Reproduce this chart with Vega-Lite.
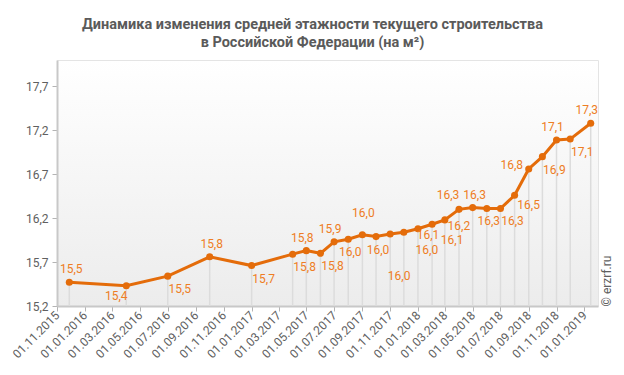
{
  "$schema": "https://vega.github.io/schema/vega-lite/v6.json",
  "width": 541,
  "height": 246,
  "autosize": {"type": "none"},
  "padding": {"left": 57, "top": 60, "right": 26, "bottom": 69},
  "background": "#ffffff",
  "config": {
    "locale": {"number": {"decimal": ",", "thousands": " ", "grouping": [3], "currency": ["", ""]}},
    "font": "Roboto",
    "view": {"stroke": "#e4e4e4", "strokeWidth": 1, "fill": {"gradient": "linear", "x1": 0, "y1": 0, "x2": 0, "y2": 1, "stops": [{"offset": 0, "color": "#ffffff"}, {"offset": 1, "color": "#ececec"}]}},
    "axis": {"grid": false, "domainColor": "#c8c8c8", "domainWidth": 2, "tickColor": "#b4b4b4", "tickSize": 5, "labelFont": "Roboto", "labelFontSize": 12, "labelColor": "#606060", "title": null}
  },
  "title": {
    "text": ["Динамика изменения средней этажности текущего строительства", "в Российской Федерации (на м²)"],
    "anchor": "middle",
    "dx": -15,
    "font": "Roboto",
    "fontSize": 14.5,
    "fontWeight": "bold",
    "color": "#5a5a5a",
    "lineHeight": 18,
    "offset": 10
  },
  "datasets": {
    "d": [
      {"date": "2015-11-28", "value": 15.47},
      {"date": "2016-04-01", "value": 15.43},
      {"date": "2016-07-01", "value": 15.54},
      {"date": "2016-10-01", "value": 15.76},
      {"date": "2017-01-01", "value": 15.66},
      {"date": "2017-04-01", "value": 15.79},
      {"date": "2017-05-01", "value": 15.83},
      {"date": "2017-06-01", "value": 15.80},
      {"date": "2017-07-01", "value": 15.93},
      {"date": "2017-08-01", "value": 15.96},
      {"date": "2017-09-01", "value": 16.01},
      {"date": "2017-10-01", "value": 15.99},
      {"date": "2017-11-01", "value": 16.02},
      {"date": "2017-12-01", "value": 16.04},
      {"date": "2018-01-01", "value": 16.08},
      {"date": "2018-02-01", "value": 16.13},
      {"date": "2018-03-01", "value": 16.18},
      {"date": "2018-04-01", "value": 16.30},
      {"date": "2018-05-01", "value": 16.32},
      {"date": "2018-06-01", "value": 16.31},
      {"date": "2018-07-01", "value": 16.31},
      {"date": "2018-08-01", "value": 16.46},
      {"date": "2018-09-01", "value": 16.76},
      {"date": "2018-10-01", "value": 16.90},
      {"date": "2018-11-01", "value": 17.09},
      {"date": "2018-12-01", "value": 17.10},
      {"date": "2019-01-15", "value": 17.28}
    ]
  },
  "data": {"name": "d"},
  "encoding": {
    "x": {"field": "date", "type": "temporal",
      "scale": {"type": "utc", "domain": [{"year": 2015, "month": 11, "date": 1, "utc": true}, {"year": 2019, "month": 1, "date": 31, "utc": true}]},
      "axis": {"labelExpr": "utcFormat(datum.value, '%d.%m.%Y')", "labelAngle": -45, "labelAlign": "right", "labelBaseline": "middle", "labelPadding": 2, "labelOverlap": false, "labelFlush": false,
        "values": [1446336000000, 1451606400000, 1456790400000, 1462060800000, 1467331200000, 1472688000000, 1477958400000, 1483228800000, 1488326400000, 1493596800000, 1498867200000, 1504224000000, 1509494400000, 1514764800000, 1519862400000, 1525132800000, 1530403200000, 1535760000000, 1541030400000, 1546300800000]}}
  },
  "layer": [
    {
      "mark": {"type": "rule", "color": "#dcdcdc", "strokeWidth": 1.5},
      "encoding": {
        "y": {"field": "value", "type": "quantitative",
          "scale": {"domain": [15.2, 18.0], "nice": false, "zero": false},
          "axis": {"format": ".1f", "values": [15.2, 15.7, 16.2, 16.7, 17.2, 17.7], "labelPadding": 4}},
        "y2": {"datum": 15.2}
      }
    },
    {
      "mark": {"type": "line", "color": "#e46c0a", "strokeWidth": 3},
      "encoding": {
        "y": {"field": "value", "type": "quantitative", "axis": null}
      }
    },
    {
      "mark": {"type": "circle", "color": "#e46c0a", "size": 50, "opacity": 1},
      "encoding": {
        "y": {"field": "value", "type": "quantitative", "axis": null}
      }
    },
    {
      "transform": [{"filter": "indexof(['2015-11-28','2016-10-01','2018-05-01'], utcFormat(datum.date, '%Y-%m-%d')) >= 0"}],
      "mark": {"type": "text", "color": "#ee7d24", "fontSize": 12, "dx": 2, "dy": -13},
      "encoding": {"y": {"field": "value", "type": "quantitative", "axis": null}, "text": {"field": "value", "type": "quantitative", "format": ".1f"}}
    },
    {
      "transform": [{"filter": "indexof(['2017-05-01','2017-07-01','2018-11-01','2019-01-15'], utcFormat(datum.date, '%Y-%m-%d')) >= 0"}],
      "mark": {"type": "text", "color": "#ee7d24", "fontSize": 12, "dx": -4, "dy": -13},
      "encoding": {"y": {"field": "value", "type": "quantitative", "axis": null}, "text": {"field": "value", "type": "quantitative", "format": ".1f"}}
    },
    {
      "transform": [{"filter": "indexof(['2017-09-01'], utcFormat(datum.date, '%Y-%m-%d')) >= 0"}],
      "mark": {"type": "text", "color": "#ee7d24", "fontSize": 12, "dx": 1, "dy": -22},
      "encoding": {"y": {"field": "value", "type": "quantitative", "axis": null}, "text": {"field": "value", "type": "quantitative", "format": ".1f"}}
    },
    {
      "transform": [{"filter": "indexof(['2018-04-01'], utcFormat(datum.date, '%Y-%m-%d')) >= 0"}],
      "mark": {"type": "text", "color": "#ee7d24", "fontSize": 12, "dx": -11, "dy": -14},
      "encoding": {"y": {"field": "value", "type": "quantitative", "axis": null}, "text": {"field": "value", "type": "quantitative", "format": ".1f"}}
    },
    {
      "transform": [{"filter": "indexof(['2018-09-01'], utcFormat(datum.date, '%Y-%m-%d')) >= 0"}],
      "mark": {"type": "text", "color": "#ee7d24", "fontSize": 12, "dx": -17, "dy": -4},
      "encoding": {"y": {"field": "value", "type": "quantitative", "axis": null}, "text": {"field": "value", "type": "quantitative", "format": ".1f"}}
    },
    {
      "transform": [{"filter": "indexof(['2016-07-01','2017-01-01','2017-04-01','2017-06-01','2018-07-01','2018-10-01','2018-12-01'], utcFormat(datum.date, '%Y-%m-%d')) >= 0"}],
      "mark": {"type": "text", "color": "#ee7d24", "fontSize": 12, "dx": 12, "dy": 13},
      "encoding": {"y": {"field": "value", "type": "quantitative", "axis": null}, "text": {"field": "value", "type": "quantitative", "format": ".1f"}}
    },
    {
      "transform": [{"filter": "indexof(['2018-08-01'], utcFormat(datum.date, '%Y-%m-%d')) >= 0"}],
      "mark": {"type": "text", "color": "#ee7d24", "fontSize": 12, "dx": 14, "dy": 10},
      "encoding": {"y": {"field": "value", "type": "quantitative", "axis": null}, "text": {"field": "value", "type": "quantitative", "format": ".1f"}}
    },
    {
      "transform": [{"filter": "indexof(['2017-08-01','2017-10-01','2018-06-01'], utcFormat(datum.date, '%Y-%m-%d')) >= 0"}],
      "mark": {"type": "text", "color": "#ee7d24", "fontSize": 12, "dx": 2, "dy": 13},
      "encoding": {"y": {"field": "value", "type": "quantitative", "axis": null}, "text": {"field": "value", "type": "quantitative", "format": ".1f"}}
    },
    {
      "transform": [{"filter": "indexof(['2016-04-01'], utcFormat(datum.date, '%Y-%m-%d')) >= 0"}],
      "mark": {"type": "text", "color": "#ee7d24", "fontSize": 12, "dx": -10, "dy": 10},
      "encoding": {"y": {"field": "value", "type": "quantitative", "axis": null}, "text": {"field": "value", "type": "quantitative", "format": ".1f"}}
    },
    {
      "transform": [{"filter": "indexof(['2017-11-01'], utcFormat(datum.date, '%Y-%m-%d')) >= 0"}],
      "mark": {"type": "text", "color": "#ee7d24", "fontSize": 12, "dx": 9, "dy": 42},
      "encoding": {"y": {"field": "value", "type": "quantitative", "axis": null}, "text": {"field": "value", "type": "quantitative", "format": ".1f"}}
    },
    {
      "transform": [{"filter": "indexof(['2017-12-01'], utcFormat(datum.date, '%Y-%m-%d')) >= 0"}],
      "mark": {"type": "text", "color": "#ee7d24", "fontSize": 12, "dx": 23, "dy": 18},
      "encoding": {"y": {"field": "value", "type": "quantitative", "axis": null}, "text": {"field": "value", "type": "quantitative", "format": ".1f"}}
    },
    {
      "transform": [{"filter": "indexof(['2018-01-01'], utcFormat(datum.date, '%Y-%m-%d')) >= 0"}],
      "mark": {"type": "text", "color": "#ee7d24", "fontSize": 12, "dx": 10, "dy": 6},
      "encoding": {"y": {"field": "value", "type": "quantitative", "axis": null}, "text": {"field": "value", "type": "quantitative", "format": ".1f"}}
    },
    {
      "transform": [{"filter": "indexof(['2018-02-01'], utcFormat(datum.date, '%Y-%m-%d')) >= 0"}],
      "mark": {"type": "text", "color": "#ee7d24", "fontSize": 12, "dx": 20, "dy": 16},
      "encoding": {"y": {"field": "value", "type": "quantitative", "axis": null}, "text": {"field": "value", "type": "quantitative", "format": ".1f"}}
    },
    {
      "transform": [{"filter": "indexof(['2018-03-01'], utcFormat(datum.date, '%Y-%m-%d')) >= 0"}],
      "mark": {"type": "text", "color": "#ee7d24", "fontSize": 12, "dx": 14, "dy": 6},
      "encoding": {"y": {"field": "value", "type": "quantitative", "axis": null}, "text": {"field": "value", "type": "quantitative", "format": ".1f"}}
    },
    {
      "mark": {"type": "point", "opacity": 0},
      "encoding": {
        "y": {"field": "value", "type": "quantitative", "axis": {"orient": "right", "labels": false, "ticks": false, "domain": false, "title": "© erzrf.ru", "titleAnchor": "start", "titleAngle": 270, "titleFont": "Roboto", "titleFontSize": 12, "titleFontWeight": "normal", "titleColor": "#606060", "titlePadding": 8, "titleBaseline": "middle"}}
      }
    }
  ],
  "resolve": {"axis": {"y": "independent"}}
}
